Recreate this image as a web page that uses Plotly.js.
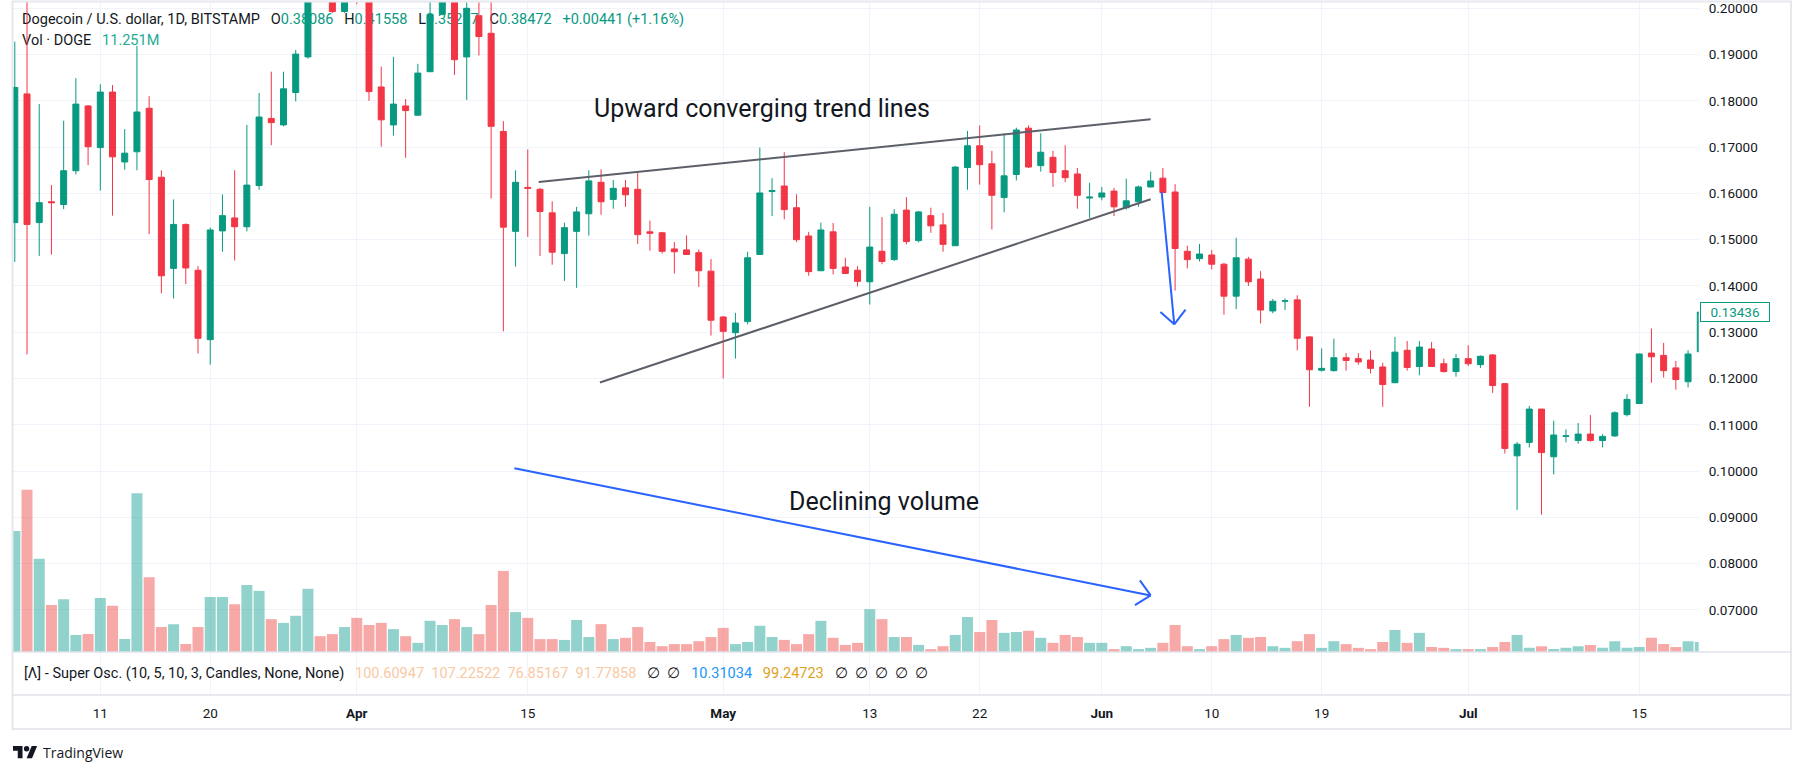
<!DOCTYPE html>
<html><head><meta charset="utf-8">
<script src="https://cdn.plot.ly/plotly-3.0.1.min.js"></script>
<style>html,body{margin:0;padding:0;background:#fff;overflow:hidden}#chart{width:1804px;height:774px}</style>
</head><body><div id="chart"></div>
<script>
// ---------------- data ----------------
const dates = [
'2024-03-04','2024-03-05','2024-03-06','2024-03-07','2024-03-08','2024-03-09','2024-03-10','2024-03-11','2024-03-12','2024-03-13',
'2024-03-14','2024-03-15','2024-03-16','2024-03-17','2024-03-18','2024-03-19','2024-03-20','2024-03-21','2024-03-22','2024-03-23',
'2024-03-24','2024-03-25','2024-03-26','2024-03-27','2024-03-28','2024-03-29','2024-03-30','2024-03-31',
'2024-04-01','2024-04-02','2024-04-03','2024-04-04','2024-04-05','2024-04-06','2024-04-07','2024-04-08','2024-04-09','2024-04-10',
'2024-04-11','2024-04-12','2024-04-13','2024-04-14','2024-04-15','2024-04-16','2024-04-17','2024-04-18','2024-04-19','2024-04-20',
'2024-04-21','2024-04-22','2024-04-23','2024-04-24','2024-04-25','2024-04-26','2024-04-27','2024-04-28','2024-04-29','2024-04-30',
'2024-05-01','2024-05-02','2024-05-03','2024-05-04','2024-05-05','2024-05-06','2024-05-07','2024-05-08','2024-05-09','2024-05-10',
'2024-05-11','2024-05-12','2024-05-13','2024-05-14','2024-05-15','2024-05-16','2024-05-17','2024-05-18','2024-05-19','2024-05-20',
'2024-05-21','2024-05-22','2024-05-23','2024-05-24','2024-05-25','2024-05-26','2024-05-27','2024-05-28','2024-05-29','2024-05-30','2024-05-31',
'2024-06-01','2024-06-02','2024-06-03','2024-06-04','2024-06-05','2024-06-06','2024-06-07','2024-06-08','2024-06-09','2024-06-10',
'2024-06-11','2024-06-12','2024-06-13','2024-06-14','2024-06-15','2024-06-16','2024-06-17','2024-06-18','2024-06-19','2024-06-20',
'2024-06-21','2024-06-22','2024-06-23','2024-06-24','2024-06-25','2024-06-26','2024-06-27','2024-06-28','2024-06-29','2024-06-30',
'2024-07-01','2024-07-02','2024-07-03','2024-07-04','2024-07-05','2024-07-06','2024-07-07','2024-07-08','2024-07-09','2024-07-10',
'2024-07-11','2024-07-12','2024-07-13','2024-07-14','2024-07-15','2024-07-16','2024-07-17','2024-07-18','2024-07-19','2024-07-20'
];
const open = [
.1537,.1815,.1537,.1582,.1576,.1649,.1789,.1699,.1819,.1668,.1690,.1784,.1635,.1438,.1533,.1434,.1284,.1519,.1547,.1528,
.1617,.1762,.1748,.1818,.1895,.2177,.2080,.1993,
.2175,.2050,.1830,.1748,.1789,.1769,.1863,.1987,.2060,.1895,.1984,.1946,.1734,.1518,.1613,.1609,.1558,.1470,.1518,.1556,
.1624,.1587,.1612,.1609,.1517,.1515,.1480,.1478,.1472,.1432,
.1333,.1299,.1323,.1468,.1604,.1616,.1569,.1508,.1433,.1517,.1441,.1434,.1409,.1475,.1457,.1564,.1498,.1552,.1532,.1487,
.1656,.1703,.1664,.1591,.1641,.1741,.1660,.1678,.1649,.1642,.1590,
.1592,.1605,.1569,.1582,.1614,.1633,.1603,.1475,.1459,.1467,.1447,.1378,.1458,.1415,.1346,.1367,.1370,.1290,.1218,.1217,
.1245,.1243,.1240,.1225,.1191,.1261,.1226,.1264,.1232,.1215,
.1243,.1230,.1251,.1189,.1033,.1062,.1134,.1031,.1075,.1066,.1080,.1066,.1076,.1122,.1146,.1255,.1250,.1223,.1193,.1258
];
const high = [
.1928,.2030,.1793,.1618,.1757,.1849,.1791,.1836,.1834,.1739,.1919,.1810,.1650,.1587,.1535,.1443,.1526,.1598,.1650,.1748,
.1817,.1863,.1863,.1910,.2280,.2240,.2120,.2200,
.2200,.2060,.1874,.1895,.1804,.1880,.2030,.2130,.2100,.2013,.2013,.2015,.1756,.1650,.1695,.1612,.1583,.1537,.1571,.1650,
.1652,.1629,.1629,.1645,.1541,.1517,.1495,.1509,.1479,.1458,
.1335,.1342,.1474,.1699,.1633,.1689,.1598,.1517,.1537,.1536,.1461,.1443,.1571,.1549,.1566,.1592,.1562,.1569,.1558,.1659,
.1735,.1747,.1692,.1730,.1742,.1747,.1730,.1692,.1704,.1655,.1623,
.1614,.1612,.1632,.1617,.1647,.1655,.1620,.1487,.1491,.1478,.1450,.1504,.1463,.1432,.1372,.1373,.1380,.1291,.1265,.1286,
.1255,.1255,.1261,.1234,.1290,.1281,.1281,.1279,.1243,.1253,
.1272,.1250,.1253,.1190,.1063,.1141,.1134,.1109,.1090,.1104,.1121,.1080,.1129,.1166,.1254,.1308,.1277,.1238,.1261,.1350
];
const low = [
.1452,.1252,.1465,.1468,.1566,.1641,.1661,.1606,.1552,.1651,.1650,.1512,.1384,.1373,.1404,.1254,.1230,.1474,.1455,.1518,
.1608,.1704,.1745,.1799,.1891,.2040,.1990,.1990,
.2009,.1800,.1701,.1725,.1677,.1768,.1862,.1985,.1856,.1802,.1898,.1589,.1302,.1442,.1506,.1465,.1446,.1411,.1396,.1509,
.1554,.1567,.1571,.1491,.1476,.1470,.1427,.1468,.1398,.1293,
.1200,.1243,.1317,.1467,.1551,.1544,.1495,.1422,.1432,.1425,.1426,.1399,.1360,.1447,.1454,.1490,.1494,.1515,.1474,.1487,
.1608,.1619,.1522,.1559,.1628,.1655,.1647,.1614,.1624,.1567,.1547,
.1585,.1551,.1565,.1571,.1613,.1601,.1390,.1438,.1453,.1436,.1338,.1350,.1400,.1319,.1341,.1348,.1261,.1139,.1215,.1215,
.1217,.1230,.1211,.1139,.1190,.1217,.1207,.1226,.1213,.1204,
.1227,.1223,.1169,.1038,.0916,.1051,.0906,.0993,.1062,.1059,.1064,.1051,.1074,.1118,.1145,.1191,.1202,.1176,.1181,.1252
];
const close = [
.1829,.1533,.1580,.1580,.1649,.1793,.1701,.1819,.1679,.1687,.1776,.1630,.1422,.1533,.1439,.1287,.1521,.1552,.1528,.1618,
.1765,.1753,.1826,.1901,.2177,.2100,.1993,.2175,
.2050,.1820,.1759,.1793,.1779,.1860,.1987,.2080,.1889,.2000,.1939,.1745,.1527,.1624,.1611,.1561,.1473,.1526,.1560,.1627,
.1582,.1611,.1597,.1511,.1514,.1475,.1474,.1468,.1433,.1326,
.1302,.1320,.1461,.1601,.1606,.1565,.1500,.1431,.1521,.1438,.1427,.1410,.1484,.1453,.1555,.1496,.1560,.1530,.1490,.1657,
.1703,.1662,.1596,.1638,.1737,.1657,.1689,.1645,.1634,.1596,.1592,
.1601,.1571,.1584,.1614,.1627,.1602,.1481,.1457,.1469,.1447,.1378,.1461,.1409,.1348,.1367,.1368,.1287,.1219,.1222,.1245,
.1239,.1236,.1222,.1187,.1257,.1224,.1268,.1226,.1215,.1243,
.1232,.1248,.1185,.1049,.1058,.1134,.1040,.1078,.1076,.1080,.1066,.1075,.1126,.1155,.1253,.1247,.1217,.1198,.1253,.13436
];
const volume = [
29.1,39.0,22.4,11.3,12.7,4.1,4.3,13.0,11.1,3.1,38.2,18.0,6.0,6.7,1.9,6.0,13.2,13.2,11.5,16.1,
14.7,7.9,7.0,8.7,15.2,3.8,4.3,6.0,
8.2,6.5,7.0,5.5,3.8,2.2,7.5,6.5,7.9,6.0,4.3,11.3,19.5,9.6,8.2,3.1,3.1,2.9,7.7,3.6,
6.7,3.1,3.4,6.0,2.4,1.4,1.9,1.9,2.6,3.6,
5.8,1.9,2.4,6.3,3.6,2.9,1.9,4.3,7.5,3.4,1.7,2.2,10.3,7.9,3.6,3.6,1.7,0.7,1.4,4.1,
8.4,4.8,7.7,4.6,4.8,5.1,3.4,2.2,4.1,3.6,2.2,
2.2,0.7,1.4,0.7,1.0,2.2,6.5,1.4,0.7,1.4,3.1,4.1,3.4,3.6,1.4,1.0,2.6,4.3,1.0,2.6,
1.9,1.0,0.7,2.4,5.3,2.2,4.6,1.2,1.0,0.7,
0.7,0.7,1.2,2.4,4.1,1.0,1.4,0.7,1.0,1.4,1.7,1.0,2.6,1.0,1.2,3.4,1.9,1.2,2.6,2.4
];
const xTickVals = ['2024-03-11','2024-03-20','2024-04-01','2024-04-15','2024-05-01','2024-05-13','2024-05-22','2024-06-01','2024-06-10','2024-06-19','2024-07-01','2024-07-15'];
const xTickText = ['11','20','<b>Apr</b>','15','<b>May</b>','13','22','<b>Jun</b>','10','19','<b>Jul</b>','15'];
const priceTicks = [0.07,0.08,0.09,0.10,0.11,0.12,0.13,0.14,0.15,0.16,0.17,0.18,0.19,0.20];
const lastPrice = 0.13436;
const legendOHLC = ['0.38086','0.41558','0.35217','0.38472'];
const legendChange = '+0.00441 (+1.16%)';
const legendVol = '11.251M';
const oscValuesA = '100.60947\u00a0\u00a0107.22522\u00a0\u00a076.85167\u00a0\u00a091.77858';
const oscValueB = '10.31034';
const oscValueC = '99.24723';

// drawings (date, price anchors)
const trendUpper = {x:['2024-04-15 21:22','2024-06-05 00:00'], y:[0.16245,0.17602]};
const trendLower = {x:['2024-04-20 21:50','2024-06-05 00:00'], y:[0.11914,0.15875]};
const volArrow   = {x:['2024-04-13 21:36','2024-06-05 00:00'], y:[0.10063,0.07314]};
const priceArrow = {x:['2024-06-05 21:36','2024-06-06 22:19'], y:[0.16031,0.13172]};

// ---------------- layout geometry ----------------
const W = 1804, H = 774;
const PX = {x0:12.7, x1:1698.7, yTop:2, yPrice:652, yInd:695};
const X_RANGE = ['2024-03-03 19:52:00','2024-07-19 20:53:00'];
const PRICE_RANGE = [0.060911, 0.201361];
const VOL_RANGE = [0, 156.3];

const GREEN = '#089981', RED = '#F23645';
const VGREEN = 'rgba(38,166,154,0.5)', VRED = 'rgba(239,83,80,0.5)';
const GRID = '#f0f3fa', TXT = '#131722', FONT = 'Roboto, Arial, sans-serif';

const toMs = s => Date.parse(s.replace(' ','T') + (s.length <= 10 ? 'T00:00:00Z' : (s.length===16?':00Z':'Z')));
const msToStr = ms => new Date(ms).toISOString().replace('T',' ').slice(0,19);
const xr0 = toMs(X_RANGE[0]), xr1 = toMs(X_RANGE[1]);
const d2px = s => PX.x0 + (toMs(s) - xr0) / (xr1 - xr0) * (PX.x1 - PX.x0);
const px2d = px => msToStr(xr0 + (px - PX.x0) / (PX.x1 - PX.x0) * (xr1 - xr0));
const p2py = p => PX.yPrice + (p - PRICE_RANGE[0]) / (PRICE_RANGE[1] - PRICE_RANGE[0]) * (PX.yTop - PX.yPrice);
const py2p = py => PRICE_RANGE[0] + (py - PX.yPrice) / (PX.yTop - PX.yPrice) * (PRICE_RANGE[1] - PRICE_RANGE[0]);
const fx = px => px / W, fy = py => 1 - py / H;

const xDomain = [fx(PX.x0), fx(PX.x1)];
const priceDomain = [fy(PX.yPrice), fy(PX.yTop)];
const indDomain = [fy(PX.yInd), fy(PX.yPrice)];

// ---------------- traces ----------------
const nb = '\u00a0';
const g = t => '<span style="color:' + GREEN + '">' + t + '</span>';
const headerLine = 'Dogecoin / U.S. dollar, 1D, BITSTAMP' + nb+nb+nb + 'O' + g(legendOHLC[0]) + nb+nb+nb + 'H' + g(legendOHLC[1]) +
  nb+nb+nb + 'L' + g(legendOHLC[2]) + nb+nb+nb + 'C' + g(legendOHLC[3]) + nb+nb+nb + g(legendChange);
const volLine = 'Vol \u00b7 DOGE' + nb+nb+nb + '<span style="color:#22ab94">' + legendVol + '</span>';
const baseY = py => (PX.yPrice - py) / (PX.yPrice - PX.yTop);

const textTrace = {
  type:'scatter', mode:'text', xaxis:'x', yaxis:'y',
  x:[px2d(22), px2d(22)], y:[baseY(20.8), baseY(41.6)],
  text:[headerLine, volLine], textposition:'middle right',
  textfont:{family:FONT, size:14.5, color:TXT}, hoverinfo:'skip', cliponaxis:false
};
const volTrace = {
  type:'bar', xaxis:'x', yaxis:'y2', x:dates, y:volume,
  marker:{color: close.map((c,i) => c >= open[i] ? VGREEN : VRED), line:{width:0}},
  hoverinfo:'skip'
};
const candleTrace = {
  type:'candlestick', xaxis:'x', yaxis:'y3', x:dates, open:open, high:high, low:low, close:close,
  increasing:{line:{color:GREEN, width:1}, fillcolor:GREEN},
  decreasing:{line:{color:RED, width:1}, fillcolor:RED},
  whiskerwidth:0, hoverinfo:'skip'
};
const dummyTrace = {type:'scatter', mode:'markers', xaxis:'x2', yaxis:'y4', x:[dates[0]], y:[-5], hoverinfo:'skip', marker:{opacity:0}};

// ---------------- drawings ----------------
const shapes = [];
const lineShape = (x0,y0,x1,y1,color,width,yref) => ({type:'line', xref:'x', yref:yref||'y3', x0:x0, y0:y0, x1:x1, y1:y1, line:{color:color, width:width}});
shapes.push(lineShape(trendUpper.x[0], trendUpper.y[0], trendUpper.x[1], trendUpper.y[1], '#5d606b', 2));
shapes.push(lineShape(trendLower.x[0], trendLower.y[0], trendLower.x[1], trendLower.y[1], '#5d606b', 2));
function arrow(a, color) {
  shapes.push(lineShape(a.x[0], a.y[0], a.x[1], a.y[1], color, 2));
  const tx = d2px(a.x[1]), ty = p2py(a.y[1]);
  const dx = tx - d2px(a.x[0]), dy = ty - p2py(a.y[0]);
  const L = Math.hypot(dx, dy), ux = -dx / L, uy = -dy / L;
  const len = 18.5, ang = 43 * Math.PI / 180;
  [ang, -ang].forEach(t => {
    const rx = ux * Math.cos(t) - uy * Math.sin(t), ry = ux * Math.sin(t) + uy * Math.cos(t);
    shapes.push(lineShape(px2d(tx + rx * len), py2p(ty + ry * len), a.x[1], a.y[1], color, 2));
  });
}
arrow(volArrow, '#2962FF');
arrow(priceArrow, '#2962FF');

// frame and pane separators
const paperLine = (x0,y0,x1,y1,color,w) => ({type:'line', xref:'paper', yref:'paper', x0:fx(x0), y0:fy(y0), x1:fx(x1), y1:fy(y1), line:{color:color, width:w}});
shapes.push({type:'rect', xref:'paper', yref:'paper', x0:fx(12.5), x1:fx(1791), y0:fy(729), y1:fy(1.5), line:{color:'#e6e8ee', width:2}, fillcolor:'rgba(0,0,0,0)'});
shapes.push(paperLine(12.5, PX.yPrice, 1791, PX.yPrice, '#e0e3eb', 1.5));
shapes.push(paperLine(12.5, PX.yInd, 1791, PX.yInd, '#e0e3eb', 1.5));

// TradingView logo
const s = 0.68, lx = 13, ly = 746;
const lp = (u,v) => fx(lx + u*s) + ',' + fy(ly + (v-4)*s);
shapes.push({type:'path', xref:'paper', yref:'paper', fillcolor:TXT, line:{width:0},
  path:'M'+lp(14,22)+'L'+lp(7,22)+'L'+lp(7,11)+'L'+lp(0,11)+'L'+lp(0,4)+'L'+lp(14,4)+'Z'});
shapes.push({type:'path', xref:'paper', yref:'paper', fillcolor:TXT, line:{width:0},
  path:'M'+lp(28,22)+'L'+lp(20,22)+'L'+lp(27.5,4)+'L'+lp(35.5,4)+'Z'});
shapes.push({type:'circle', xref:'paper', yref:'paper', fillcolor:TXT, line:{width:0},
  x0:fx(lx+16*s), x1:fx(lx+24*s), y0:fy(ly+8*s), y1:fy(ly+0*s)});

// ---------------- annotations ----------------
const annotations = [
  {xref:'paper', yref:'paper', x:fx(591.5), y:fy(109), xanchor:'left', yanchor:'middle', showarrow:false,
   text:'Upward converging trend lines', font:{family:FONT, size:25, color:TXT}},
  {xref:'paper', yref:'paper', x:fx(787), y:fy(501), xanchor:'left', yanchor:'middle', showarrow:false,
   text:'Declining volume', font:{family:FONT, size:25, color:TXT}},
  {xref:'paper', yref:'paper', x:fx(22), y:fy(673.5), xanchor:'left', yanchor:'middle', showarrow:false,
   font:{family:FONT, size:14.5, color:TXT},
   text:'[\u039b] - Super Osc. (10, 5, 10, 3, Candles, None, None)' + nb+nb+nb +
     '<span style="color:#f9c9a3">' + oscValuesA + '</span>' + nb+nb+nb + '\u2205' + nb+nb + '\u2205' + nb+nb+nb +
     '<span style="color:#2196f3">' + oscValueB + '</span>' + nb+nb+nb + '<span style="color:#dea21f">' + oscValueC + '</span>' +
     nb+nb+nb + ['\u2205','\u2205','\u2205','\u2205','\u2205'].join(nb+nb)},
  {xref:'paper', yref:'y3', x:fx(1700), y:lastPrice, xanchor:'left', yanchor:'middle', showarrow:false,
   text:lastPrice.toFixed(5), font:{family:FONT, size:13.5, color:GREEN}, bgcolor:'#ffffff',
   bordercolor:GREEN, borderwidth:1, borderpad:2, width:64, height:14, align:'center'},
  {xref:'paper', yref:'paper', x:fx(41), y:fy(752.5), xanchor:'left', yanchor:'middle', showarrow:false,
   text:'TradingView', font:{family:'"Open Sans", Roboto, sans-serif', size:14, color:TXT}}
];

const layout = {
  width:W, height:H, margin:{l:0, r:0, t:0, b:0}, paper_bgcolor:'#ffffff', plot_bgcolor:'rgba(0,0,0,0)',
  showlegend:false, hovermode:false, dragmode:false, bargap:0.1, boxgap:0.3,
  xaxis:{type:'date', domain:xDomain, range:X_RANGE, anchor:'y', tickvals:xTickVals, showticklabels:false, ticks:'',
    showgrid:true, gridcolor:GRID, gridwidth:1, zeroline:false, showline:false, rangeslider:{visible:false}, fixedrange:true},
  xaxis2:{type:'date', domain:xDomain, range:X_RANGE, anchor:'y4', tickvals:xTickVals, ticktext:xTickText, ticks:'',
    showgrid:true, gridcolor:GRID, gridwidth:1, zeroline:false, showline:false, fixedrange:true,
    tickfont:{family:FONT, size:13.5, color:TXT}, ticklabelstandoff:8, rangeslider:{visible:false}},
  yaxis:{domain:priceDomain, range:[0,1], visible:false, fixedrange:true},
  yaxis2:{overlaying:'y', range:VOL_RANGE, visible:false, fixedrange:true},
  yaxis3:{overlaying:'y', side:'right', anchor:'x', range:PRICE_RANGE, tickvals:priceTicks, tickformat:'.5f', ticks:'',
    showgrid:true, gridcolor:GRID, gridwidth:1, zeroline:false, showline:false, fixedrange:true,
    tickfont:{family:FONT, size:13.5, color:TXT}, ticklabelstandoff:9},
  yaxis4:{domain:indDomain, anchor:'x2', range:[0,1], visible:false, fixedrange:true},
  shapes:shapes, annotations:annotations
};

Plotly.newPlot('chart', [textTrace, volTrace, candleTrace, dummyTrace], layout, {staticPlot:true, displayModeBar:false});
</script></body></html>
